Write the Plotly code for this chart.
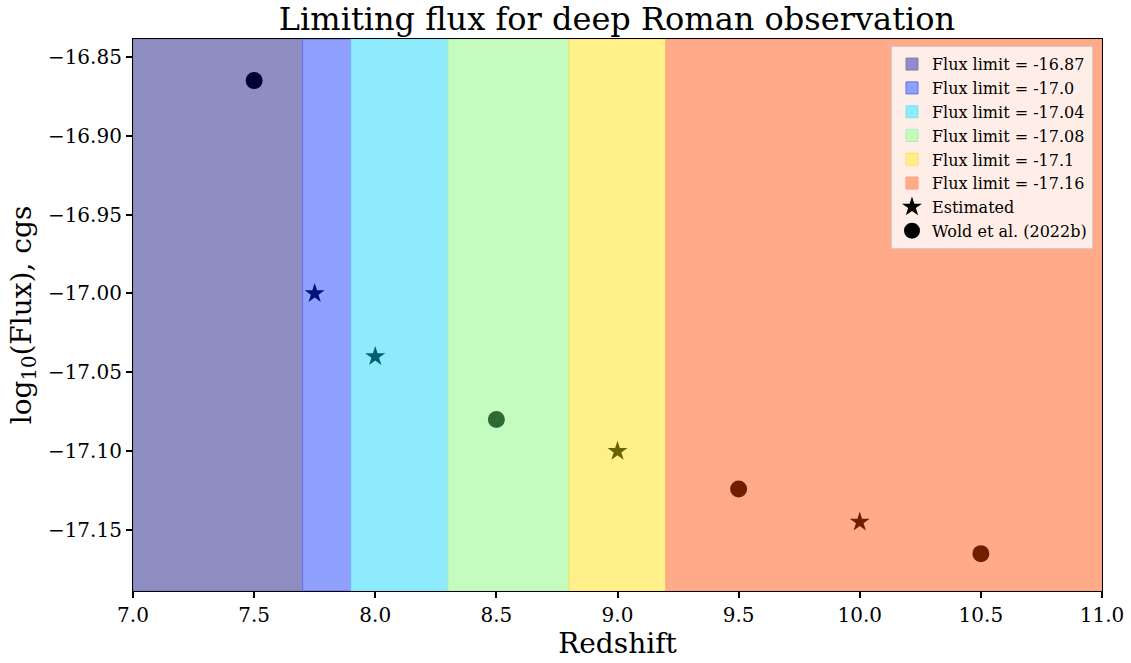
import plotly.graph_objects as go

# Band data
band_edges = [7.0, 7.7, 7.9, 8.3, 8.8, 9.2, 11.0]
band_limits = ["-16.87", "-17.0", "-17.04", "-17.08", "-17.1", "-17.16"]
band_colors = ["#8E8EC3", "#8FA0FF", "#8EEBFB", "#C4FCC0", "#FFF08A", "#FFAA88"]
band_edge_colors = ["#7D7DBA", "#5A6FF0", "#7FE3F5", "#B0F0AC", "#F8E070", "#FF9F7A"]

# Estimated points (stars)
est_z = [7.75, 8.0, 9.0, 10.0]
est_flux = [-17.0, -17.04, -17.1, -17.145]
est_colors = ["#00137A", "#00606E", "#6B6100", "#701E00"]

# Wold et al. (2022b) points (circles)
wold_z = [7.5, 8.5, 9.5, 10.5]
wold_flux = [-16.865, -17.08, -17.124, -17.165]
wold_colors = ["#000033", "#2E6B34", "#701E00", "#701E00"]

x_ticks = [7.0, 7.5, 8.0, 8.5, 9.0, 9.5, 10.0, 10.5, 11.0]
y_ticks = [-16.85, -16.90, -16.95, -17.00, -17.05, -17.10, -17.15]

FONT = "DejaVu Serif"

fig = go.Figure()

shapes = []
for i, lim in enumerate(band_limits):
    shapes.append(dict(
        type="rect", xref="x", yref="paper",
        x0=band_edges[i], x1=band_edges[i + 1], y0=0, y1=1,
        fillcolor=band_colors[i], opacity=1,
        line=dict(color=band_edge_colors[i], width=1),
        layer="below", showlegend=True, name=f"Flux limit = {lim}",
        legendrank=i + 1,
    ))

# data traces (colored markers, not in legend)
fig.add_trace(go.Scatter(
    x=est_z, y=est_flux, mode="markers", name="Estimated", showlegend=False,
    marker=dict(symbol="star", size=15, color=est_colors, line=dict(width=0)),
))
fig.add_trace(go.Scatter(
    x=wold_z, y=wold_flux, mode="markers", name="Wold et al. (2022b)", showlegend=False,
    marker=dict(symbol="circle", size=17, color=wold_colors, line=dict(width=0)),
))
# legend entries with black markers
fig.add_trace(go.Scatter(
    x=[None], y=[None], mode="markers", name="Estimated",
    marker=dict(symbol="star", size=15, color="black", line=dict(width=0)),
    legendrank=10,
))
fig.add_trace(go.Scatter(
    x=[None], y=[None], mode="markers", name="Wold et al. (2022b)",
    marker=dict(symbol="circle", size=17, color="black", line=dict(width=0)),
    legendrank=11,
))

fig.update_layout(
    width=1131, height=663,
    margin=dict(l=133, r=29, t=39, b=72, autoexpand=False),
    paper_bgcolor="white", plot_bgcolor="white",
    shapes=shapes,
    font=dict(family=FONT, color="black"),
    title=dict(text="Limiting flux for deep Roman observation", x=0.5455, xanchor="center",
               y=0.972, yanchor="middle", font=dict(size=32, family=FONT)),
    legend=dict(x=0.9907, y=0.987, xanchor="right", yanchor="top",
                bgcolor="rgba(255,255,255,0.8)", bordercolor="#CCCCCC", borderwidth=1,
                font=dict(size=16, family=FONT), itemwidth=30, tracegroupgap=0),
    xaxis=dict(range=[7.0, 11.0], tickvals=x_ticks, ticktext=[f"{v:.1f}" for v in x_ticks],
               ticks="outside", ticklen=6, tickwidth=1.5, tickcolor="black",
               showline=True, linecolor="black", linewidth=1.2, mirror=True,
               showgrid=False, zeroline=False,
               tickfont=dict(size=20, family=FONT),
               title=dict(text="Redshift", font=dict(size=28, family=FONT), standoff=4)),
    yaxis=dict(range=[-17.1887, -16.8386], tickvals=y_ticks,
               ticktext=[f"{v:.2f}".replace("-", "\u2212") for v in y_ticks],
               ticks="outside", ticklen=6, tickwidth=1.5, tickcolor="black",
               showline=True, linecolor="black", linewidth=1.2, mirror=True,
               showgrid=False, zeroline=False,
               tickfont=dict(size=20, family=FONT),
               title=dict(text="log<sub>10</sub>(Flux), cgs", font=dict(size=28, family=FONT), standoff=8)),
)

fig.write_html("out.html")
